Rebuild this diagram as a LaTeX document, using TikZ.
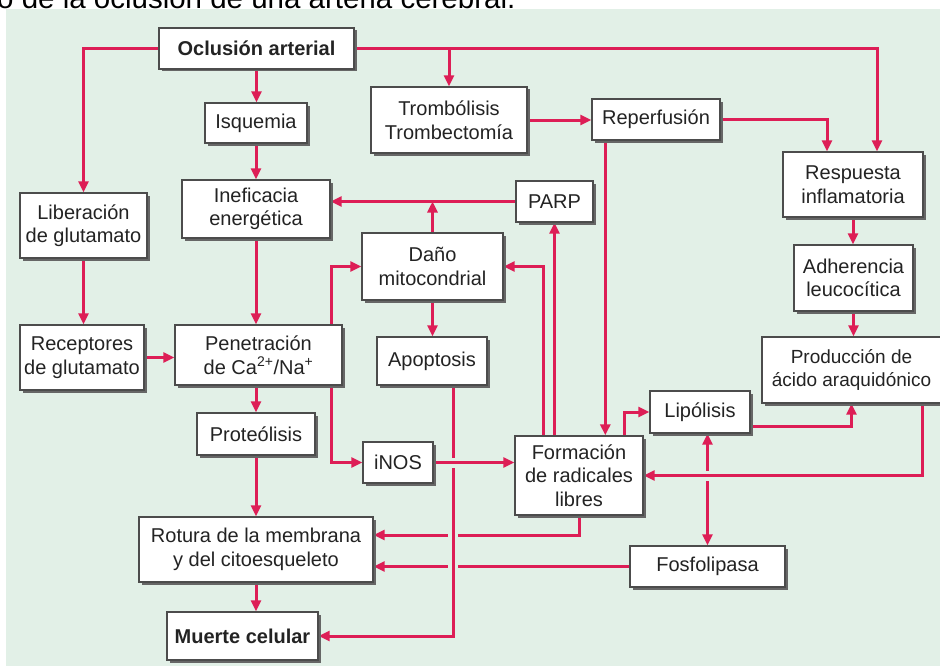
\documentclass[tikz,border=0pt]{standalone}
\usepackage{fontspec}
\setmainfont{Liberation Sans}
\usetikzlibrary{arrows.meta,shadows,calc}
\definecolor{panelc}{RGB}{226,240,231}
\definecolor{arrc}{RGB}{221,30,86}
\definecolor{txtc}{RGB}{35,35,35}
\pgfdeclarelayer{panel}
\pgfdeclarelayer{lines}
\pgfsetlayers{panel,lines,main}
\begin{document}
\begin{tikzpicture}[x=1pt,y=-1pt,
  box/.style={draw=black!70, line width=1.4pt, fill=white, inner sep=0pt, align=center,
    text=txtc, font=\fontsize{20}{23.5}\selectfont,
    drop shadow={shadow xshift=2.5pt, shadow yshift=-2.5pt, fill=black!60, opacity=1}},
  conn/.style={draw=arrc, line width=3pt, -{Triangle[length=11pt,width=10pt]}},
  halo/.style={preaction={draw=panelc, line width=10pt, -}},
]
\useasboundingbox (0,0) rectangle (940,669);
\begin{pgfonlayer}{panel}
\fill[panelc] (6,9) rectangle (945,666);
\end{pgfonlayer}
\node[anchor=base west, inner sep=0pt, font=\fontsize{29.5}{30}\selectfont, text=black] (title) at (-3,9) {o de la oclusión de una arteria cerebral.};

\node[box, minimum width=195pt, minimum height=41pt] (ocl) at (256.5,48.5) {\bfseries Oclusión arterial};
\node[box, minimum width=102pt, minimum height=40pt] (isq) at (256,123) {Isquemia};
\node[box, minimum width=156pt, minimum height=66pt] (trom) at (449,120) {Trombólisis\\Trombectomía};
\node[box, minimum width=128pt, minimum height=41pt] (rep) at (656,119.5) {Reperfusión};
\node[box, minimum width=140pt, minimum height=65pt] (resp) at (853,184.5) {Respuesta\\inflamatoria};
\node[box, minimum width=77pt, minimum height=41pt] (parp) at (554.5,201.5) {PARP};
\node[box, minimum width=119pt, minimum height=66pt] (adh) at (853.5,278) {Adherencia\\leucocítica};
\node[box, minimum width=127pt, minimum height=65pt] (lib) at (83.5,225.5) {Liberación\\de glutamato};
\node[box, minimum width=148pt, minimum height=58pt] (inef) at (256,209) {Ineficacia\\energética};
\node[box, minimum width=141pt, minimum height=67pt] (dano) at (432.5,266.5) {Daño\\mitocondrial};
\node[box, minimum width=124pt, minimum height=65pt] (rec) at (82,357.5) {Receptores\\de glutamato};
\node[box, minimum width=167pt, minimum height=60pt] (pen) at (258.5,355) {Penetración\\de Ca\textsuperscript{2+}/Na\textsuperscript{+}};
\node[box, minimum width=110pt, minimum height=48pt] (apo) at (432,361) {Apoptosis};
\node[box, minimum width=118pt, minimum height=42pt] (prot) at (256,434) {Proteólisis};
\node[box, minimum width=70pt, minimum height=41pt] (inos) at (398,462.5) {iNOS};
\node[box, minimum width=179pt, minimum height=66pt, font=\fontsize{19}{23.5}\selectfont] (prod) at (851.5,370) {Producción de\\ácido araquidónico};
\node[box, minimum width=100pt, minimum height=42pt] (lip) at (700,412) {Lipólisis};
\node[box, minimum width=128pt, minimum height=79pt] (form) at (579,475.5) {Formación\\de radicales\\libres};
\node[box, minimum width=234pt, minimum height=65pt] (rot) at (256,549.5) {Rotura de la membrana\\y del citoesqueleto};
\node[box, minimum width=151pt, minimum height=48pt] (muerte) at (242.5,636) {\bfseries Muerte celular};
\node[box, minimum width=155pt, minimum height=41pt] (fos) at (707.5,566.5) {Fosfolipasa};

\begin{pgfonlayer}{lines}
\draw[conn] (ocl.west) -| (lib.north);
\draw[conn] (ocl.south) -- (ocl.south |- isq.north);
\draw[conn] (ocl.east) -| ($(resp.north)+(24,0)$);
\draw[conn] (trom.north |- ocl.east) -- (trom.north);
\draw[conn] (trom.east) -- (trom.east -| rep.west);
\draw[conn] (rep.east) -| ($(resp.north)+(-26,0)$);
\coordinate (repd) at ($(rep.south west)+(14,0)$);
\draw[conn] (repd) -- (repd |- form.north);
\draw[conn] (resp.south) -- (resp.south |- adh.north);
\draw[conn] (adh.south) -- (adh.south |- prod.north);
\draw[conn] (isq.south) -- (isq.south |- inef.north);
\draw[conn] (parp.west) -- (parp.west -| inef.east);
\draw[conn] (dano.north) -- (dano.north |- parp.west);
\draw[conn] (parp.south |- form.north) -- (parp.south);
\draw[conn] ($(form.north west)+(29,0)$) |- (dano.east);
\draw[conn] ($(pen.north east)+(-11,0)$) |- (dano.west);
\draw[conn] (inef.south) -- (inef.south |- pen.north);
\draw[conn] (lib.south) -- (lib.south |- rec.north);
\draw[conn] (rec.east) -- (rec.east -| pen.west);
\draw[conn] ($(pen.south east)+(-11,0)$) |- (inos.west);
\draw[conn] (prot.north |- pen.south) -- (prot.north);
\draw[conn] (dano.south) -- (dano.south |- apo.north);
\draw[conn] (prot.south) -- (prot.south |- rot.north);
\draw[conn] (form.south) |- ($(rot.east)+(0,-14.5)$);
\draw[conn] (fos.west) -- (fos.west -| rot.east);
\draw[conn] (rot.south) -- (rot.south |- muerte.north);
\draw[conn] ($(form.north east)+(-19,0)$) |- (lip.west);
\draw[conn] ($(lip.east)+(0,14)$) -| (prod.south);
\draw[conn, {Triangle[length=11pt,width=10pt]}-{Triangle[length=11pt,width=10pt]}] (fos.north |- lip.south) -- (fos.north);
\draw[conn, halo] ($(prod.south east)+(-19,0)$) |- (form.east);
\draw[conn, halo] ($(apo.south)+(21,0)$) |- (muerte.east);
\draw[conn, halo] (inos.east) -- (inos.east -| form.west);
\end{pgfonlayer}
\end{tikzpicture}
\end{document}
